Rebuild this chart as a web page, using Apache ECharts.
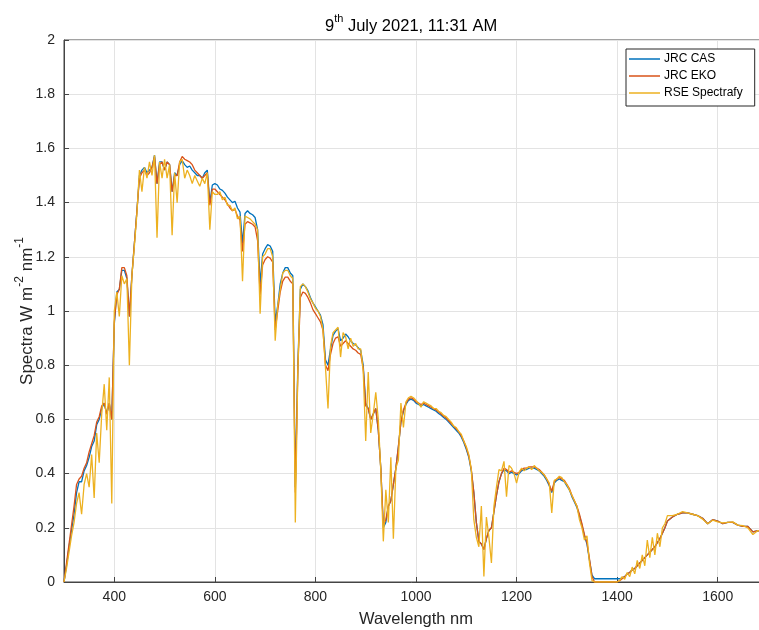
<!DOCTYPE html>
<html><head><meta charset="utf-8">
<script src="https://cdn.jsdelivr.net/npm/echarts@6/dist/echarts.min.js"></script>
<style>html,body{margin:0;padding:0;background:#fff}#c{width:759px;height:630px}</style>
</head><body><div id="c"></div>
<script>
// Wavelength grid (nm)
const wavelength = [
300,305,310,315,320,325,330,335,340,345,350,355,360,365,370,375,380,385,390,395,
400,405,410,415,420,425,430,435,440,445,450,455,460,465,470,475,480,485,490,495,
500,505,510,515,520,525,530,535,540,545,550,555,560,565,570,575,580,585,590,595,
600,605,610,615,620,625,630,635,640,645,650,655,660,665,670,675,680,685,690,695,
700,705,710,715,720,725,730,735,740,745,750,755,760,765,770,775,780,785,790,795,
800,805,810,815,820,825,830,835,840,845,850,855,860,865,870,875,880,885,890,895,
900,905,910,915,920,925,930,935,940,945,950,955,960,965,970,975,980,985,990,995,
1000,1005,1010,1015,1020,1025,1030,1035,1040,1045,1050,1055,1060,1065,1070,1075,1080,1085,1090,1095,
1100,1105,1110,1115,1120,1125,1130,1135,1140,1145,1150,1155,1160,1165,1170,1175,1180,1185,1190,1195,
1200,1205,1210,1215,1220,1225,1230,1235,1240,1245,1250,1255,1260,1265,1270,1275,1280,1285,1290,1295,
1300,1305,1310,1315,1320,1325,1330,1335,1340,1345,1350,1355,1360,1365,1370,1375,1380,1385,1390,1395,
1400,1405,1410,1415,1420,1425,1430,1435,1440,1445,1450,1455,1460,1465,1470,1475,1480,1485,1490,1495,
1500,
1510,1520,1530,1540,1550,1560,1570,1580,1590,1600,1610,1620,1630,1640,1650,1660,1670,1680,1690,1700
];
// JRC CAS (W m-2 nm-1)
const jrcCas = [
0.00,0.06,0.13,0.19,0.25,0.33,0.37,0.37,0.41,0.43,0.46,0.50,0.52,0.58,0.60,0.64,0.66,0.62,0.66,0.60,
0.95,1.07,1.08,1.15,1.15,1.12,0.98,1.13,1.25,1.37,1.50,1.52,1.53,1.51,1.52,1.53,1.575,1.47,1.55,1.55,
1.52,1.55,1.54,1.44,1.51,1.50,1.54,1.555,1.54,1.53,1.535,1.52,1.51,1.50,1.50,1.49,1.51,1.52,1.40,1.465,
1.47,1.465,1.45,1.445,1.435,1.42,1.41,1.40,1.405,1.38,1.365,1.25,1.36,1.37,1.36,1.355,1.345,1.30,1.10,1.21,
1.23,1.245,1.24,1.22,0.96,1.02,1.10,1.14,1.16,1.16,1.14,1.13,0.35,0.80,1.08,1.10,1.09,1.075,1.05,1.03,
1.015,1.00,0.985,0.95,0.82,0.80,0.86,0.91,0.925,0.935,0.89,0.90,0.915,0.905,0.89,0.88,0.875,0.865,0.855,0.80,
0.66,0.64,0.60,0.62,0.64,0.56,0.42,0.20,0.22,0.28,0.30,0.36,0.42,0.50,0.59,0.63,0.655,0.67,0.675,0.67,
0.66,0.655,0.65,0.655,0.65,0.645,0.64,0.635,0.63,0.622,0.615,0.607,0.60,0.59,0.58,0.57,0.56,0.55,0.535,0.515,
0.49,0.46,0.41,0.33,0.22,0.15,0.14,0.12,0.16,0.19,0.20,0.26,0.32,0.37,0.40,0.415,0.41,0.40,0.405,0.40,
0.395,0.40,0.41,0.415,0.415,0.42,0.42,0.42,0.415,0.41,0.40,0.39,0.375,0.355,0.33,0.365,0.375,0.38,0.375,0.37,
0.355,0.34,0.315,0.295,0.275,0.245,0.21,0.17,0.14,0.08,0.025,0.012,0.012,0.012,0.012,0.012,0.012,0.012,0.012,0.012,
0.012,0.012,0.015,0.02,0.03,0.035,0.045,0.05,0.06,0.07,0.08,0.09,0.10,0.11,0.12,0.13,0.145,0.16,0.18,0.20,
0.225,
0.24,0.25,0.255,0.255,0.25,0.245,0.235,0.215,0.23,0.225,0.215,0.22,0.22,0.21,0.205,0.205,0.185,0.19,0.185,0.18
];
// JRC EKO
const jrcEko = [
0.00,0.07,0.14,0.21,0.28,0.36,0.38,0.39,0.42,0.44,0.48,0.51,0.54,0.59,0.61,0.65,0.66,0.62,0.66,0.60,
0.96,1.06,1.08,1.16,1.16,1.13,0.98,1.13,1.25,1.37,1.49,1.51,1.52,1.50,1.51,1.53,1.57,1.47,1.54,1.55,
1.52,1.55,1.54,1.44,1.50,1.50,1.55,1.57,1.56,1.555,1.55,1.54,1.52,1.51,1.50,1.49,1.50,1.51,1.39,1.45,
1.45,1.44,1.43,1.42,1.41,1.395,1.38,1.37,1.375,1.35,1.335,1.22,1.32,1.33,1.325,1.32,1.31,1.26,1.06,1.17,
1.19,1.20,1.195,1.18,0.93,1.00,1.07,1.11,1.125,1.125,1.11,1.10,0.33,0.78,1.05,1.07,1.065,1.05,1.03,1.005,
0.99,0.975,0.96,0.93,0.80,0.78,0.84,0.88,0.90,0.905,0.87,0.88,0.89,0.88,0.87,0.86,0.855,0.845,0.84,0.79,
0.65,0.64,0.60,0.62,0.64,0.56,0.42,0.21,0.23,0.28,0.30,0.36,0.42,0.50,0.59,0.635,0.66,0.675,0.68,0.675,
0.665,0.66,0.655,0.66,0.655,0.65,0.645,0.64,0.635,0.627,0.62,0.612,0.605,0.595,0.585,0.575,0.565,0.555,0.54,0.52,
0.495,0.465,0.415,0.33,0.22,0.15,0.14,0.12,0.16,0.19,0.20,0.26,0.32,0.37,0.40,0.42,0.415,0.405,0.41,0.405,
0.40,0.405,0.415,0.42,0.42,0.425,0.425,0.425,0.42,0.415,0.405,0.395,0.38,0.36,0.335,0.37,0.38,0.385,0.38,0.375,
0.36,0.345,0.32,0.30,0.28,0.25,0.215,0.175,0.145,0.085,0.02,0.0,0.0,0.0,0.0,0.0,0.0,0.0,0.0,0.0,
0.0,0.005,0.012,0.02,0.03,0.035,0.045,0.05,0.06,0.07,0.08,0.09,0.10,0.11,0.12,0.13,0.145,0.16,0.18,0.20,
0.225,
0.24,0.25,0.255,0.255,0.25,0.245,0.235,0.215,0.23,0.225,0.215,0.22,0.22,0.21,0.205,0.205,0.185,0.19,0.185,0.18
];
// RSE Spectrafy
const rseSpectrafy = [
0.00,0.05,0.11,0.17,0.22,0.29,0.33,0.25,0.36,0.40,0.35,0.47,0.31,0.55,0.44,0.62,0.73,0.56,0.755,0.29,
1.00,1.07,0.98,1.13,1.10,1.12,0.80,1.13,1.24,1.36,1.52,1.44,1.53,1.49,1.55,1.50,1.575,1.27,1.55,1.49,
1.56,1.49,1.54,1.28,1.51,1.40,1.55,1.56,1.49,1.52,1.50,1.47,1.50,1.48,1.46,1.49,1.47,1.51,1.30,1.44,
1.43,1.43,1.44,1.41,1.42,1.39,1.39,1.37,1.38,1.34,1.35,1.11,1.35,1.345,1.34,1.33,1.32,1.30,0.99,1.20,
1.21,1.23,1.23,1.20,0.89,1.02,1.08,1.14,1.15,1.15,1.13,1.12,0.22,0.78,1.09,1.10,1.09,1.07,1.045,1.03,
1.01,1.00,0.98,0.93,0.79,0.64,0.87,0.92,0.93,0.94,0.83,0.92,0.905,0.86,0.90,0.87,0.88,0.86,0.86,0.78,
0.52,0.775,0.55,0.62,0.70,0.60,0.41,0.15,0.34,0.22,0.46,0.16,0.42,0.45,0.66,0.57,0.665,0.68,0.685,0.68,
0.67,0.66,0.645,0.665,0.66,0.655,0.65,0.64,0.64,0.63,0.625,0.615,0.61,0.60,0.59,0.575,0.57,0.555,0.545,0.52,
0.50,0.47,0.415,0.23,0.165,0.13,0.28,0.02,0.24,0.165,0.07,0.28,0.35,0.415,0.41,0.445,0.315,0.43,0.42,0.40,
0.365,0.405,0.42,0.41,0.42,0.425,0.415,0.43,0.42,0.41,0.405,0.395,0.38,0.365,0.255,0.375,0.38,0.39,0.385,0.37,
0.36,0.34,0.32,0.30,0.28,0.23,0.20,0.155,0.17,0.07,0.005,0.0,0.0,0.0,0.0,0.0,0.0,0.0,0.0,0.0,
0.0,0.005,0.02,0.01,0.035,0.02,0.055,0.03,0.08,0.05,0.10,0.06,0.155,0.09,0.165,0.10,0.18,0.13,0.20,0.215,
0.245,
0.245,0.25,0.26,0.255,0.25,0.245,0.232,0.215,0.228,0.222,0.218,0.22,0.222,0.21,0.208,0.20,0.175,0.19,0.185,0.18
];
const seriesNames = ['JRC CAS', 'JRC EKO', 'RSE Spectrafy'];
const seriesColors = ['#0072BD', '#D95319', '#EDB120'];
const xTicks = [400, 600, 800, 1000, 1200, 1400, 1600];

const FONT = 'Liberation Sans, Arial, Helvetica, sans-serif';
const AX = '#262626';
const pairs = vals => wavelength.map((w, i) => [w, vals[i]]);
const values = [jrcCas, jrcEko, rseSpectrafy];

const chart = echarts.init(document.getElementById('c'), null, {renderer: 'canvas'});
chart.setOption({
  animation: false,
  backgroundColor: '#fff',
  title: {
    text: '{n|9}{s|th}{n| July 2021, 11:31 AM}',
    left: 325, top: 13, padding: 0,
    textStyle: {
      fontFamily: FONT, fontWeight: 'normal', color: '#000',
      rich: {
        n: {fontFamily: FONT, fontSize: 16.5, color: '#000', lineHeight: 22, verticalAlign: 'bottom'},
        s: {fontFamily: FONT, fontSize: 11, color: '#000', lineHeight: 22, verticalAlign: 'top'}
      }
    }
  },
  legend: {
    data: seriesNames,
    orient: 'vertical',
    left: 626, top: 49,
    padding: [3, 12, 6, 3],
    itemGap: 3,
    itemWidth: 31, itemHeight: 1.5,
    icon: 'rect',
    backgroundColor: '#fff',
    borderColor: AX, borderWidth: 1, borderRadius: 0,
    textStyle: {fontFamily: FONT, fontSize: 12, color: '#000', lineHeight: 14, padding: [0, 0, 0, -1]}
  },
  grid: {left: 64, right: -9, top: 40, bottom: 48, outerBoundsMode: 'none', containLabel: false,
    show: true, borderColor: '#444', borderWidth: 1, backgroundColor: 'transparent'},
  xAxis: {
    type: 'value', min: 300, max: 1700,
    name: 'Wavelength nm', nameLocation: 'middle', nameGap: 29, nameMoveOverlap: false,
    nameTextStyle: {fontFamily: FONT, fontSize: 16.5, color: AX},
    axisLine: {onZero: false, lineStyle: {color: '#444', width: 1}},
    axisTick: {inside: true, length: 5, customValues: xTicks, lineStyle: {color: '#444'}},
    axisLabel: {customValues: xTicks, fontFamily: FONT, fontSize: 14, color: AX, margin: 8,
      formatter: v => String(v)},
    splitLine: {show: true, lineStyle: {color: '#e3e3e3', width: 1}}
  },
  yAxis: {
    type: 'value', min: 0, max: 2, interval: 0.2,
    name: '{a|Spectra W m}{s|-2}{a| nm}{s|-1}', nameLocation: 'middle', nameGap: 28, nameMoveOverlap: false,
    nameTextStyle: {
      fontFamily: FONT, fontSize: 17, color: AX,
      rich: {
        a: {fontFamily: FONT, fontSize: 17, color: AX, lineHeight: 22, verticalAlign: 'bottom'},
        s: {fontFamily: FONT, fontSize: 12, color: AX, lineHeight: 22, verticalAlign: 'top'}
      }
    },
    axisLine: {show: true, lineStyle: {color: '#444', width: 1}},
    axisTick: {show: true, inside: true, length: 5, lineStyle: {color: '#444'}},
    axisLabel: {fontFamily: FONT, fontSize: 14, color: AX, margin: 9},
    splitLine: {show: true, lineStyle: {color: '#e3e3e3', width: 1}}
  },
  series: values.map((v, i) => ({
    name: seriesNames[i], type: 'line', data: pairs(v),
    showSymbol: false, symbol: 'none',
    lineStyle: {color: seriesColors[i], width: 1.3},
    itemStyle: {color: seriesColors[i]},
    clip: true
  }))
});
</script>
</body></html>
